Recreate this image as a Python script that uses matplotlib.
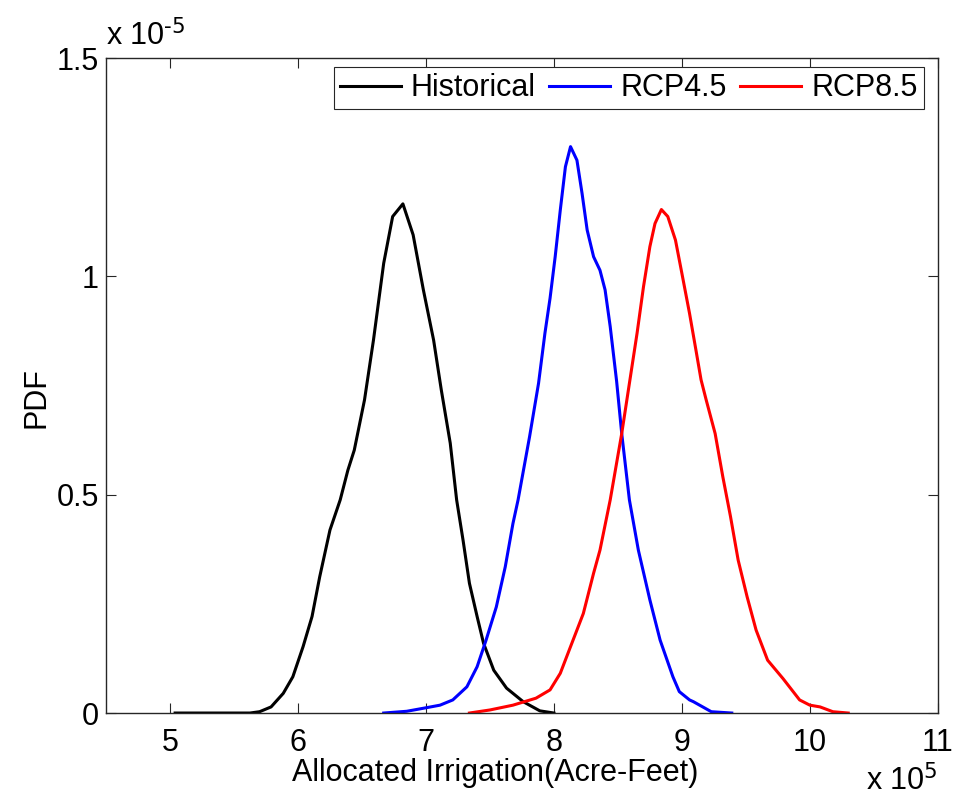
import numpy as np
import matplotlib
matplotlib.use("Agg")
import matplotlib.pyplot as plt

plt.rcParams["font.family"] = ["Liberation Sans", "DejaVu Sans"]

# values; x in 1e5 acre-feet, pdf in 1e-5
hist_x = [5.04, 5.625, 5.70, 5.79, 5.885, 5.96, 6.04, 6.11, 6.17, 6.25, 6.33, 6.39,
          6.44, 6.52, 6.59, 6.67, 6.74, 6.82, 6.90, 6.98, 7.06, 7.12, 7.19, 7.24,
          7.29, 7.34, 7.40, 7.45, 7.53, 7.63, 7.76, 7.89, 8.00]
hist_y = [0.0, 0.0, 0.003, 0.014, 0.045, 0.083, 0.152, 0.221, 0.312, 0.419, 0.488,
          0.556, 0.602, 0.717, 0.854, 1.030, 1.137, 1.166, 1.095, 0.969, 0.854,
          0.740, 0.618, 0.488, 0.396, 0.297, 0.221, 0.160, 0.098, 0.057, 0.026,
          0.005, 0.0]

rcp45_x = [6.67, 6.85, 7.00, 7.11, 7.21, 7.32, 7.40, 7.47, 7.55, 7.62, 7.68, 7.72,
           7.81, 7.88, 7.93, 7.97, 8.01, 8.05, 8.09, 8.13, 8.18, 8.22, 8.26, 8.31,
           8.36, 8.40, 8.44, 8.49, 8.53, 8.59, 8.66, 8.75, 8.83, 8.93, 8.98,
           9.06, 9.09, 9.23, 9.39]
rcp45_y = [0.0, 0.004, 0.012, 0.018, 0.030, 0.060, 0.106, 0.167, 0.243, 0.335, 0.434,
           0.488, 0.633, 0.755, 0.870, 0.950, 1.045, 1.152, 1.251, 1.297, 1.266,
           1.190, 1.106, 1.045, 1.014, 0.969, 0.885, 0.760, 0.640, 0.488,
           0.373, 0.259, 0.167, 0.083, 0.049, 0.030, 0.026, 0.003, 0.0]

rcp85_x = [7.34, 7.50, 7.68, 7.86, 7.97, 8.05, 8.13, 8.23, 8.31, 8.36, 8.44,
           8.53, 8.59, 8.65, 8.70, 8.75, 8.79, 8.84, 8.89, 8.95, 9.00, 9.06,
           9.11, 9.15, 9.19, 9.26, 9.32, 9.38, 9.44, 9.51, 9.58, 9.67, 9.79, 9.92,
           10.00, 10.08, 10.18, 10.30]
rcp85_y = [0.0, 0.007, 0.018, 0.034, 0.053, 0.091, 0.152, 0.228, 0.320, 0.373,
           0.488, 0.640, 0.755, 0.870, 0.976, 1.068, 1.121, 1.153, 1.137,
           1.083, 1.007, 0.915, 0.831, 0.763, 0.717, 0.640, 0.541, 0.450, 0.350,
           0.266, 0.190, 0.121, 0.079, 0.030, 0.018, 0.014, 0.003, 0.0]

x_ticks = [5, 6, 7, 8, 9, 10, 11]
y_ticks = [0, 0.5, 1, 1.5]
y_tick_labels = ["0", "0.5", "1", "1.5"]

FS = 22
INK = "#262626"

fig = plt.figure(figsize=(9.55, 7.99), dpi=100)
ax = fig.add_axes([0.111, 0.1076, 0.871, 0.8198])

ax.plot(hist_x, hist_y, color="black", lw=2.2, label="Historical")
ax.plot(rcp45_x, rcp45_y, color="blue", lw=2.2, label="RCP4.5")
ax.plot(rcp85_x, rcp85_y, color="red", lw=2.2, label="RCP8.5")

ax.set_xlim(4.5, 11)
ax.set_ylim(0, 1.5)
ax.set_xticks(x_ticks)
ax.set_xticklabels([str(t) for t in x_ticks])
ax.set_yticks(y_ticks)
ax.set_yticklabels(y_tick_labels)
ax.tick_params(direction="in", length=7, width=0.8, top=True, right=True,
               labelsize=FS, color=INK)
ax.tick_params(axis="x", pad=11)
ax.tick_params(axis="y", pad=5)
for s in ax.spines.values():
    s.set_color(INK)
    s.set_linewidth(1.0)

ax.set_xlabel("Allocated Irrigation(Acre-Feet)", fontsize=FS)
ax.xaxis.set_label_coords(0.4675, -0.068)
ax.set_ylabel("PDF", fontsize=FS)
ax.yaxis.set_label_coords(-0.066, 0.481)

# axis multipliers, MATLAB style
ax.text(0.0, 1.008, r"x 10$^{\text{-5}}$", transform=ax.transAxes,
        fontsize=FS, ha="left", va="bottom")
ax.text(1.0, -0.079, r"x 10$^{\text{5}}$", transform=ax.transAxes,
        fontsize=FS, ha="right", va="top")

leg = ax.legend(loc="upper right", bbox_to_anchor=(0.994, 1.0), ncol=3, fontsize=FS,
                frameon=True, fancybox=False,
                handlelength=2.0, handletextpad=0.32, columnspacing=0.45,
                borderpad=0.2, borderaxespad=0.3, framealpha=1)
leg.get_frame().set_edgecolor(INK)
leg.get_frame().set_linewidth(0.8)

fig.savefig("out.png", dpi=100)
